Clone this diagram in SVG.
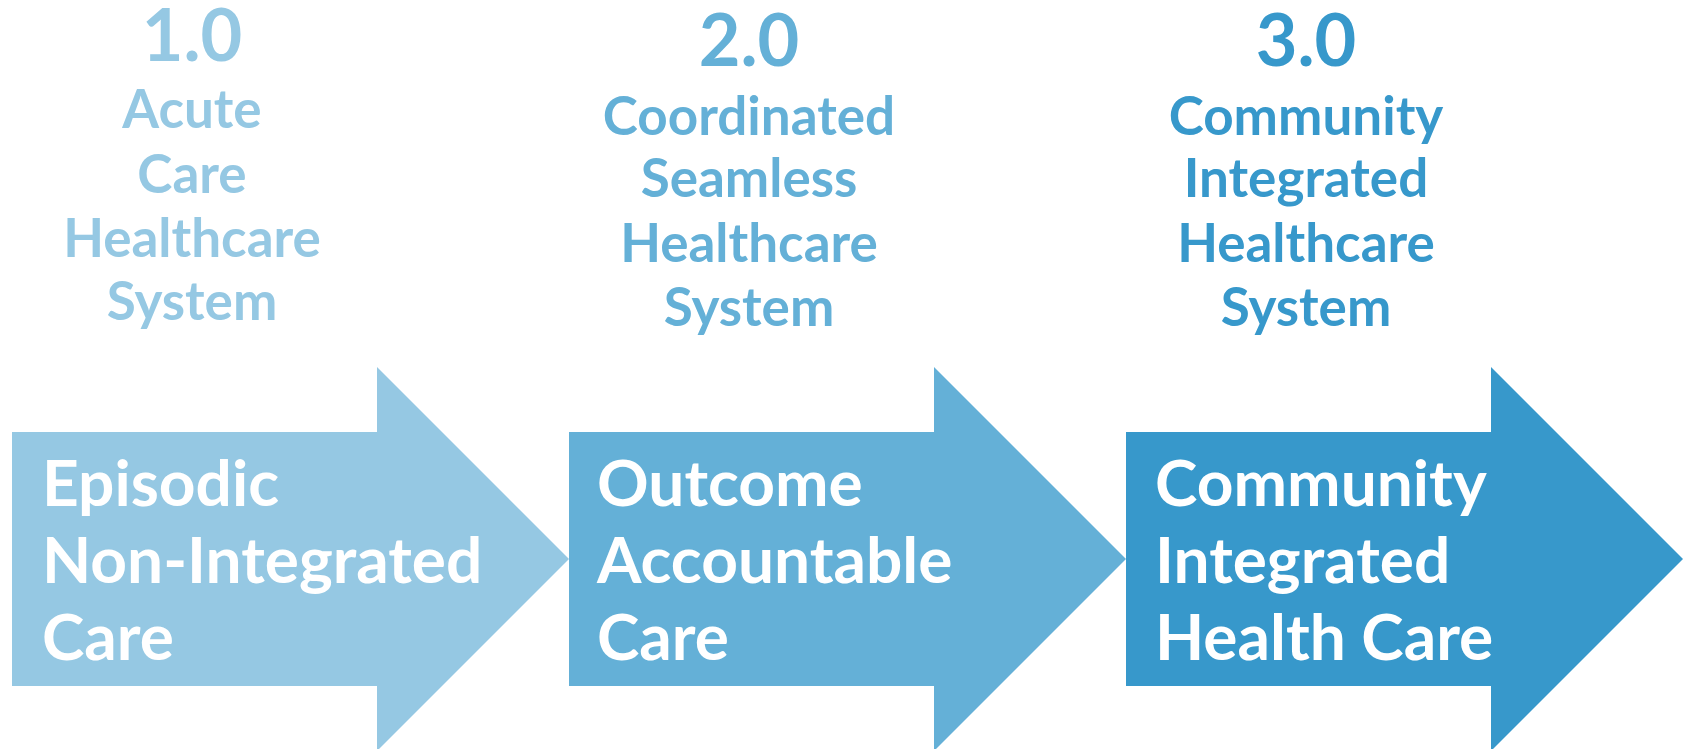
<svg xmlns="http://www.w3.org/2000/svg" width="1685" height="749" viewBox="0 0 1685 749">
<style>
text{font-family:Lato,"Open Sans","Liberation Sans",sans-serif;font-weight:700}
.num{font-size:72px;text-anchor:middle}
.hd{font-size:53px;text-anchor:middle}
.bd{font-size:64px;fill:#ffffff}
.c1{fill:#95c8e3}
.c2{fill:#64b0d7}
.c3{fill:#3798cb}
</style>
<defs>
<polygon id="arrow" points="0,432 365,432 365,367 557,559 365,751 365,686 0,686"/>
</defs>
<g id="node1">
<use href="#arrow" x="12" class="c1"/>
<text class="num c1" x="192" y="61">1.0</text>
<text class="hd c1" x="192" y="128">Acute</text>
<text class="hd c1" x="192" y="192.5">Care</text>
<text class="hd c1" x="192" y="256.5">Healthcare</text>
<text class="hd c1" x="192" y="320">System</text>
<text class="bd" x="42" y="506">Episodic</text>
<text class="bd" x="42" y="583">Non-Integrated</text>
<text class="bd" x="42" y="660">Care</text>
</g>
<g id="node2">
<use href="#arrow" x="569" class="c2"/>
<text class="num c2" x="749" y="66">2.0</text>
<text class="hd c2" x="749" y="134.5">Coordinated</text>
<text class="hd c2" x="749" y="197">Seamless</text>
<text class="hd c2" x="749" y="262">Healthcare</text>
<text class="hd c2" x="749" y="326">System</text>
<text class="bd" x="597" y="506">Outcome</text>
<text class="bd" x="597" y="583">Accountable</text>
<text class="bd" x="597" y="660">Care</text>
</g>
<g id="node3">
<use href="#arrow" x="1126" class="c3"/>
<text class="num c3" x="1306" y="66">3.0</text>
<text class="hd c3" x="1306" y="134.5">Community</text>
<text class="hd c3" x="1306" y="197">Integrated</text>
<text class="hd c3" x="1306" y="262">Healthcare</text>
<text class="hd c3" x="1306" y="326">System</text>
<text class="bd" x="1155" y="506">Community</text>
<text class="bd" x="1155" y="583">Integrated</text>
<text class="bd" x="1155" y="660">Health Care</text>
</g>
<g id="connectors"></g>
</svg>
